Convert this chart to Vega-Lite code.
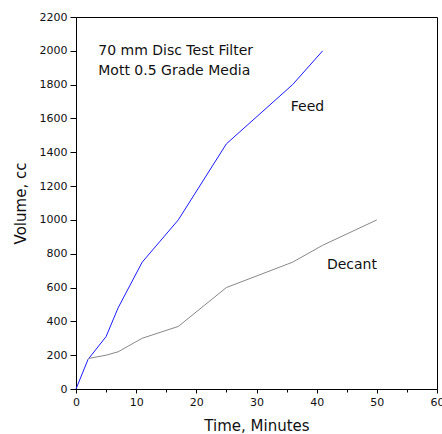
{
  "$schema": "https://vega.github.io/schema/vega-lite/v6.json",
  "width": 361,
  "height": 372,
  "autosize": {"type": "none"},
  "padding": {"left": 76, "top": 17, "right": 5, "bottom": 45},
  "background": "white",
  "config": {
    "view": {"stroke": "#000", "strokeWidth": 1},
    "font": "DejaVu Sans",
    "axis": {"grid": false, "domainColor": "#000", "tickColor": "#000", "labelColor": "#111", "titleColor": "#111", "labelFont": "DejaVu Sans", "titleFont": "DejaVu Sans", "titleFontWeight": "normal", "labelFontSize": 11, "titleFontSize": 15, "labelOverlap": false}
  },
  "datasets": {
    "lines": [
      {"series": "Feed", "t": 0, "v": 0},
      {"series": "Feed", "t": 2, "v": 175},
      {"series": "Feed", "t": 5, "v": 310},
      {"series": "Feed", "t": 7, "v": 480},
      {"series": "Feed", "t": 11, "v": 750},
      {"series": "Feed", "t": 17, "v": 1000},
      {"series": "Feed", "t": 25, "v": 1450},
      {"series": "Feed", "t": 36, "v": 1800},
      {"series": "Feed", "t": 41, "v": 2000},
      {"series": "Decant", "t": 2, "v": 180},
      {"series": "Decant", "t": 5, "v": 200},
      {"series": "Decant", "t": 7, "v": 220},
      {"series": "Decant", "t": 11, "v": 300},
      {"series": "Decant", "t": 17, "v": 370},
      {"series": "Decant", "t": 25, "v": 600},
      {"series": "Decant", "t": 36, "v": 750},
      {"series": "Decant", "t": 41, "v": 850},
      {"series": "Decant", "t": 50, "v": 1000}
    ],
    "notes": [
      {"label": "70 mm Disc Test Filter", "t": 3.7, "v": 1975},
      {"label": "Mott 0.5 Grade Media", "t": 3.7, "v": 1855},
      {"label": "Feed", "t": 35.7, "v": 1647},
      {"label": "Decant", "t": 41.7, "v": 707}
    ]
  },
  "layer": [
    {
      "data": {"name": "lines"},
      "mark": {"type": "line", "strokeWidth": 1},
      "encoding": {
        "x": {"field": "t", "type": "quantitative", "scale": {"domain": [0, 60], "nice": false},
          "axis": {"title": "Time, Minutes", "orient": "bottom", "format": "d", "values": [0, 10, 20, 30, 40, 50, 60], "tickSize": 4, "labelPadding": 3, "titlePadding": 11, "labelFlush": false}},
        "y": {"field": "v", "type": "quantitative", "scale": {"domain": [0, 2200], "nice": false},
          "axis": {"title": "Volume, cc", "format": "d", "values": [0, 200, 400, 600, 800, 1000, 1200, 1400, 1600, 1800, 2000, 2200], "tickSize": 6, "labelPadding": 3, "titlePadding": 11, "labelFlush": false}},
        "color": {"field": "series", "type": "nominal", "scale": {"domain": ["Feed", "Decant"], "range": ["#1a1aff", "#888888"]}, "legend": null}
      }
    },
    {
      "data": {"name": "lines"},
      "mark": {"type": "rule", "opacity": 0},
      "encoding": {
        "x": {"field": "t", "type": "quantitative", "axis": {"title": null, "orient": "bottom", "labels": false, "domain": false, "values": [5, 15, 25, 35, 45, 55], "tickSize": 3}}
      }
    },
    {
      "data": {"name": "notes"},
      "mark": {"type": "text", "align": "left", "baseline": "alphabetic", "fontSize": 14, "color": "#111", "font": "DejaVu Sans"},
      "encoding": {
        "x": {"field": "t", "type": "quantitative", "axis": null},
        "y": {"field": "v", "type": "quantitative",
          "axis": {"title": "Volume, cc", "format": "d", "values": [0, 200, 400, 600, 800, 1000, 1200, 1400, 1600, 1800, 2000, 2200], "tickSize": 6, "labelPadding": 3, "titlePadding": 11, "labelFlush": false}},
        "text": {"field": "label"}
      }
    }
  ],
  "resolve": {"axis": {"x": "independent"}}
}
